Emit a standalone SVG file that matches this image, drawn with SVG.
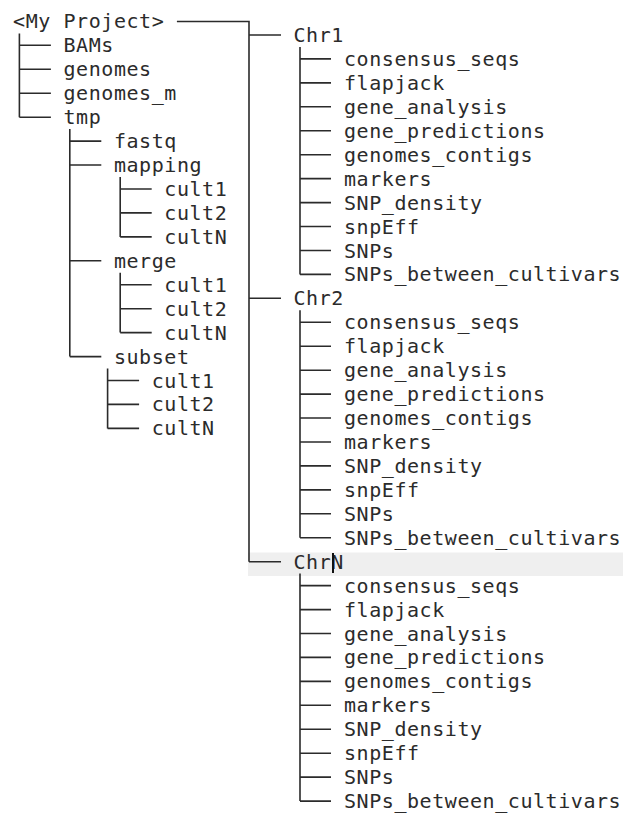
<svg xmlns="http://www.w3.org/2000/svg" width="623" height="813" viewBox="0 0 623 813">
<style>
text{font-family:"DejaVu Sans Mono","Liberation Mono",monospace;font-size:20px;letter-spacing:0.56px;fill:#2b2b2b}
.c{fill:none;stroke:#2b2b2b;stroke-width:1.6}
</style>
<rect x="0" y="0" width="623" height="813" fill="#ffffff"/>
<rect x="248" y="552.5" width="375" height="23.5" fill="#efefef"/>
<g id="connectors" class="c">
<path d="M176.9 21.5H249V561.7"/>
<path d="M19.4 33.4V117.2M19.4 45.3H50.9M19.4 69.3H50.9M19.4 93.2H50.9M19.4 117.2H50.9"/>
<path d="M69.8 129.1V356.6M69.8 141.1H101.3M69.8 165H101.3M69.8 260.8H101.3M69.8 356.6H101.3"/>
<path d="M120.2 177V236.9M120.2 189H151.7M120.2 212.9H151.7M120.2 236.9H151.7"/>
<path d="M120.2 272.8V332.6M120.2 284.7H151.7M120.2 308.7H151.7M120.2 332.6H151.7"/>
<path d="M107.6 368.5V428.4M107.6 380.5H139.1M107.6 404.4H139.1M107.6 428.4H139.1"/>
<path d="M249 35H281M249 298.3H281M249 561.7H281"/>
<path d="M300 47V274.4M300 58.9H331M300 82.9H331M300 106.8H331M300 130.8H331M300 154.7H331M300 178.6H331M300 202.6H331M300 226.5H331M300 250.5H331M300 274.4H331"/>
<path d="M300 310.3V537.7M300 322.3H331M300 346.2H331M300 370.2H331M300 394.1H331M300 418H331M300 442H331M300 465.9H331M300 489.9H331M300 513.8H331M300 537.7H331"/>
<path d="M300 573.6V801.1M300 585.6H331M300 609.6H331M300 633.5H331M300 657.4H331M300 681.4H331M300 705.3H331M300 729.3H331M300 753.2H331M300 777.1H331M300 801.1H331"/>
</g>
<g id="root"><text x="13.1" y="28.4">&lt;My Project&gt;</text></g>
<g id="BAMs"><text x="63.5" y="52.3">BAMs</text></g>
<g id="genomes"><text x="63.5" y="76.3">genomes</text></g>
<g id="genomes_m"><text x="63.5" y="100.2">genomes_m</text></g>
<g id="tmp"><text x="63.5" y="124.2">tmp</text></g>
<g id="fastq"><text x="113.9" y="148.1">fastq</text></g>
<g id="mapping"><text x="113.9" y="172">mapping</text></g>
<g id="mapping_cult1"><text x="164.3" y="196">cult1</text></g>
<g id="mapping_cult2"><text x="164.3" y="219.9">cult2</text></g>
<g id="mapping_cultN"><text x="164.3" y="243.9">cultN</text></g>
<g id="merge"><text x="113.9" y="267.8">merge</text></g>
<g id="merge_cult1"><text x="164.3" y="291.7">cult1</text></g>
<g id="merge_cult2"><text x="164.3" y="315.7">cult2</text></g>
<g id="merge_cultN"><text x="164.3" y="339.6">cultN</text></g>
<g id="subset"><text x="113.9" y="363.6">subset</text></g>
<g id="subset_cult1"><text x="151.7" y="387.5">cult1</text></g>
<g id="subset_cult2"><text x="151.7" y="411.4">cult2</text></g>
<g id="subset_cultN"><text x="151.7" y="435.4">cultN</text></g>
<g id="Chr1"><text x="293.5" y="42">Chr1</text></g>
<g id="Chr1_children">
<text x="344" y="65.9">consensus_seqs</text>
<text x="344" y="89.9">flapjack</text>
<text x="344" y="113.8">gene_analysis</text>
<text x="344" y="137.8">gene_predictions</text>
<text x="344" y="161.7">genomes_contigs</text>
<text x="344" y="185.6">markers</text>
<text x="344" y="209.6">SNP_density</text>
<text x="344" y="233.5">snpEff</text>
<text x="344" y="257.5">SNPs</text>
<text x="344" y="281.4">SNPs_between_cultivars</text>
</g>
<g id="Chr2"><text x="293.5" y="305.3">Chr2</text></g>
<g id="Chr2_children">
<text x="344" y="329.3">consensus_seqs</text>
<text x="344" y="353.2">flapjack</text>
<text x="344" y="377.2">gene_analysis</text>
<text x="344" y="401.1">gene_predictions</text>
<text x="344" y="425">genomes_contigs</text>
<text x="344" y="449">markers</text>
<text x="344" y="472.9">SNP_density</text>
<text x="344" y="496.9">snpEff</text>
<text x="344" y="520.8">SNPs</text>
<text x="344" y="544.7">SNPs_between_cultivars</text>
</g>
<g id="ChrN"><text x="293.5" y="568.7">ChrN</text></g>
<g id="ChrN_children">
<text x="344" y="592.6">consensus_seqs</text>
<text x="344" y="616.6">flapjack</text>
<text x="344" y="640.5">gene_analysis</text>
<text x="344" y="664.4">gene_predictions</text>
<text x="344" y="688.4">genomes_contigs</text>
<text x="344" y="712.3">markers</text>
<text x="344" y="736.3">SNP_density</text>
<text x="344" y="760.2">snpEff</text>
<text x="344" y="784.1">SNPs</text>
<text x="344" y="808.1">SNPs_between_cultivars</text>
</g>
<rect x="332" y="553" width="2" height="20" fill="#111111"/>
</svg>
